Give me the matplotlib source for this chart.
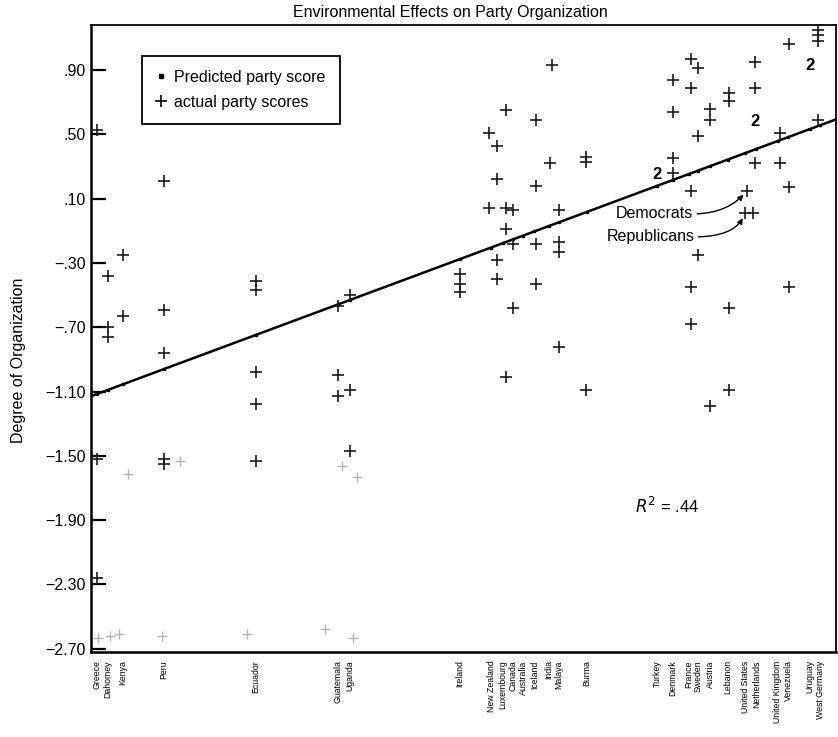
import matplotlib
matplotlib.use("Agg")
import matplotlib.pyplot as plt
import numpy as np
from matplotlib.lines import Line2D

plt.rcParams["font.family"] = ["Liberation Sans", "DejaVu Sans"]

# countries along the environment index (x) with predicted party score
countries = ["Greece", "Dahomey", "Kenya", "Peru", "Ecuador", "Guatemala", "Uganda",
             "Ireland", "New Zealand", "Luxembourg", "Canada", "Australia", "Iceland",
             "India", "Malaya", "Burma", "Turkey", "Denmark", "France", "Sweden",
             "Austria", "Lebanon", "United States", "Netherlands", "United Kingdom",
             "Venezuela", "Uruguay", "West Germany"]
country_x = [0.8, 2.3, 4.3, 9.8, 22.1, 33.2, 34.8, 49.5, 53.7, 55.3, 56.6, 58.0, 59.5,
             61.5, 62.8, 66.6, 76.0, 78.1, 80.3, 81.5, 83.1, 85.5, 87.8, 89.3, 92.2,
             93.6, 96.5, 97.9]
predicted = [-1.115, -1.089, -1.055, -0.960, -0.748, -0.557, -0.530, -0.277, -0.204,
             -0.177, -0.154, -0.130, -0.104, -0.070, -0.048, 0.018, 0.180, 0.216,
             0.254, 0.274, 0.302, 0.343, 0.383, 0.409, 0.459, 0.483, 0.533, 0.557]

# actual party scores
actual_x = [0.8, 0.8, 0.8,
            2.3, 2.3, 2.3,
            4.3, 4.3,
            9.8, 9.8, 9.8, 9.8, 9.8,
            22.1, 22.1, 22.1, 22.1, 22.1,
            33.2, 33.2, 33.2,
            34.8, 34.8, 34.8,
            49.5, 49.5, 49.5,
            53.4, 53.4,
            54.5, 54.5, 54.5, 54.5,
            55.7, 55.7, 55.7, 55.7,
            56.6, 56.6, 56.6,
            59.7, 59.7, 59.7, 59.7,
            61.9, 61.6,
            62.8, 62.8, 62.8, 62.8,
            66.4, 66.4, 66.4,
            78.1, 78.1, 78.1, 78.1,
            80.5, 80.5, 80.5, 80.5, 80.5,
            81.5, 81.5, 81.5,
            83.1, 83.1, 83.1,
            85.6, 85.6, 85.6, 85.6,
            88.1, 87.8,
            89.1, 89.1, 89.1, 88.9,
            92.5, 92.5,
            93.7, 93.7, 93.7,
            97.6, 97.6, 97.6, 97.6]
actual_y = [0.53, -1.52, -2.26,
            -0.38, -0.70, -0.76,
            -0.25, -0.63,
            0.21, -0.59, -0.86, -1.52, -1.55,
            -0.41, -0.47, -0.98, -1.18, -1.53,
            -0.57, -1.00, -1.13,
            -0.50, -1.09, -1.47,
            -0.37, -0.43, -0.48,
            0.51, 0.04,
            0.43, 0.22, -0.28, -0.40,
            0.65, 0.04, -0.09, -1.01,
            0.03, -0.18, -0.58,
            0.59, 0.18, -0.18, -0.43,
            0.93, 0.32,
            0.03, -0.17, -0.23, -0.82,
            0.36, 0.33, -1.09,
            0.84, 0.64, 0.35, 0.26,
            0.97, 0.79, 0.15, -0.45, -0.68,
            0.91, 0.49, -0.25,
            0.66, 0.59, -1.19,
            0.76, 0.71, -0.58, -1.09,
            0.15, 0.01,
            0.95, 0.79, 0.32, 0.01,
            0.51, 0.32,
            1.06, 0.17, -0.45,
            1.15, 1.12, 1.08, 0.59]

# faded marks in the scan
faint_x = [0.9, 2.5, 3.7, 9.5, 20.9, 31.4, 35.2, 5.0, 11.9, 33.7, 35.7]
faint_y = [-2.63, -2.62, -2.61, -2.62, -2.61, -2.58, -2.63, -1.61, -1.53, -1.56, -1.63]

# two coincident parties, drawn as "2"
double_x = [76.0, 89.1, 96.5]
double_y = [0.25, 0.58, 0.93]

yticks = [0.90, 0.50, 0.10, -0.30, -0.70, -1.10, -1.50, -1.90, -2.30, -2.70]
ytick_labels = [".90", ".50", ".10", "\u2212.30", "\u2212.70", "\u22121.10", "\u22121.50",
                "\u22121.90", "\u22122.30", "\u22122.70"]

fig = plt.figure(figsize=(8.38, 7.37), dpi=100)
ax = fig.add_axes([91 / 838, 85 / 737, 745 / 838, 627 / 737])

coef = np.polyfit(country_x, predicted, 1)
xs = np.array([0, 100])
ax.plot(xs, np.polyval(coef, xs), color="black", lw=1.8, zorder=2)
ax.plot(country_x, predicted, "s", color="black", ms=1.5, zorder=3)

ax.plot(actual_x, actual_y, "+", color="#1a1a1a", ms=9, mew=1.2, zorder=4)
ax.plot(faint_x, faint_y, "+", color="#b5b5b5", ms=7, mew=1.0, zorder=1)
for x, y in zip(double_x, double_y):
    ax.text(x, y, "2", ha="center", va="center", fontsize=12, fontweight="bold", zorder=5)

ax.set_xlim(0, 100)
ax.set_ylim(-2.72, 1.18)
ax.set_yticks(yticks)
ax.set_yticklabels(ytick_labels, fontsize=11.5)
ax.tick_params(axis="y", direction="in", length=11, width=1.6, pad=4)
ax.set_xticks(country_x)
ax.set_xticklabels(countries, rotation=90, fontsize=6.3, va="top", ha="center")
ax.tick_params(axis="x", length=0, pad=6)
for side in ["left", "bottom"]:
    ax.spines[side].set_linewidth(1.8)
for side in ["top", "right"]:
    ax.spines[side].set_linewidth(1.3)

ax.set_ylabel("Degree of Organization", fontsize=11.5)
ax.yaxis.set_label_coords(-0.087, 0.465)

fig.text(450 / 838, 1 - 12 / 737, "Environmental Effects on Party Organization",
         ha="center", va="center", fontsize=11.5)

handles = [Line2D([], [], ls="", marker="s", color="black", ms=3),
           Line2D([], [], ls="", marker="+", color="black", ms=9, mew=1.2)]
leg = ax.legend(handles, ["Predicted party score", "actual party scores"],
                loc="upper left", bbox_to_anchor=(0.058, 0.964), fontsize=11.5,
                frameon=True, fancybox=False, edgecolor="black", framealpha=1,
                handlelength=0.6, handletextpad=0.5, borderpad=0.9, labelspacing=0.6)
leg.get_frame().set_linewidth(1.3)

ax.annotate("Democrats", xy=(88.1, 0.15), xytext=(80.8, 0.005), ha="right", va="center",
            fontsize=11.5,
            arrowprops=dict(arrowstyle="-|>", color="black", lw=1.0, mutation_scale=8,
                            relpos=(1, 0.5), shrinkA=1, shrinkB=4,
                            connectionstyle="angle3,angleA=0,angleB=50"))
ax.annotate("Republicans", xy=(87.8, 0.01), xytext=(81.0, -0.138), ha="right", va="center",
            fontsize=11.5,
            arrowprops=dict(arrowstyle="-|>", color="black", lw=1.0, mutation_scale=8,
                            relpos=(1, 0.5), shrinkA=1, shrinkB=4,
                            connectionstyle="angle3,angleA=0,angleB=70"))

ax.text(73.0, -1.81, r"$R^2$ = .44", ha="left", va="center", fontsize=12)

fig.savefig("out.png", dpi=100)
